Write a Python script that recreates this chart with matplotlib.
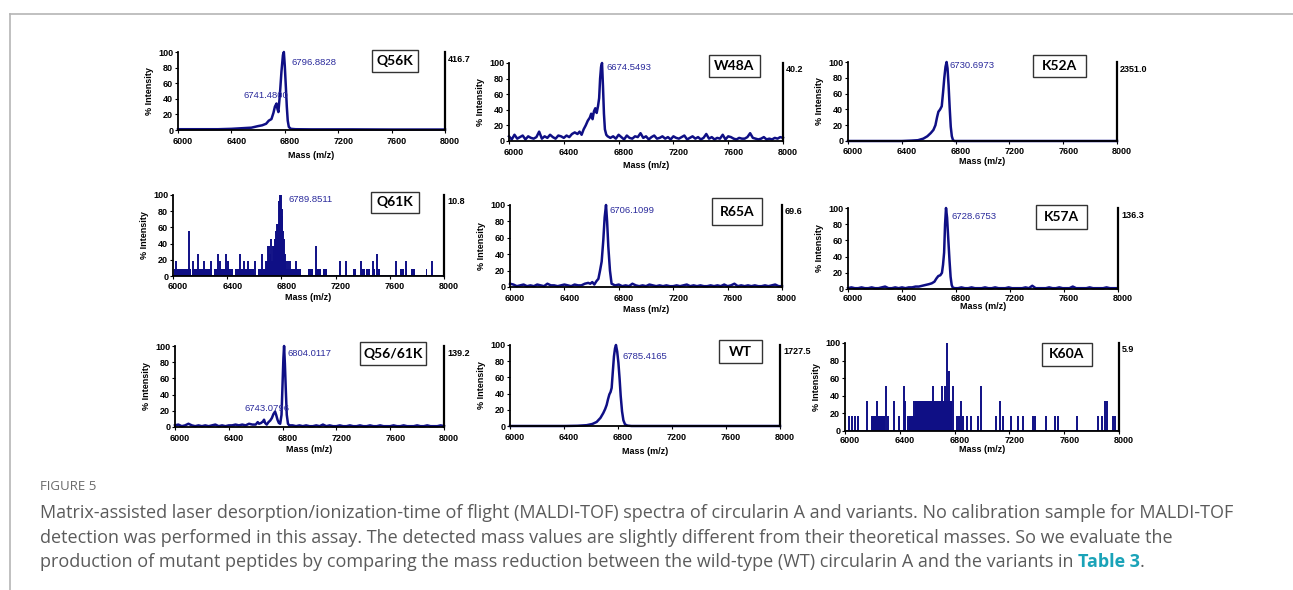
import numpy as np
import matplotlib
matplotlib.use('Agg')
import matplotlib.pyplot as plt
import matplotlib.transforms as mtransforms
from matplotlib.patches import Rectangle
from matplotlib.lines import Line2D

# %%
# Values (mass in m/z, intensity in % of max)
variants = ['Q56K', 'W48A', 'K52A', 'Q61K', 'R65A', 'K57A', 'Q56/61K', 'WT', 'K60A']
max_counts = ['416.7', '40.2', '2351.0', '10.8', '69.6', '136.3', '139.2', '1727.5', '5.9']
mass_ticks = [6000, 6400, 6800, 7200, 7600, 8000]
int_ticks = [0, 20, 40, 60, 80, 100]

peak_labels = {
    'Q56K': ['6796.8828', '6741.4800'],
    'W48A': ['6674.5493'],
    'K52A': ['6730.6973'],
    'Q61K': ['6789.8511'],
    'R65A': ['6706.1099'],
    'K57A': ['6728.6753'],
    'Q56/61K': ['6804.0117', '6743.0796'],
    'WT': ['6785.4165'],
    'K60A': [],
}

# Q56K
q56k_mass = [6000, 6100, 6200, 6300, 6400, 6450, 6500, 6550, 6600, 6630, 6660, 6680, 6700, 6715, 6726,
             6738, 6745, 6752, 6763, 6775, 6786, 6793, 6800, 6808, 6815, 6822, 6830, 6845, 6880, 7000,
             7300, 7600, 8000]
q56k_int = [1, 1, 1, 1, 1.5, 2, 2.5, 3, 5, 6, 8, 12, 14, 22, 30,
            34, 27, 23, 45, 75, 96, 100, 82, 55, 30, 12, 4, 1.5, 1, 0.8,
            0.8, 0.6, 0.6]

# W48A (noisy baseline every 20 m/z either side of the peak)
w48a_left = [6, 2, 8, 3, 5, 7, 2, 6, 4, 3, 5, 12, 3, 6, 4, 8, 5, 3, 7, 6, 4, 7, 5, 9, 11]
w48a_peak_mass = [6500, 6515, 6530, 6545, 6560, 6575, 6590, 6600, 6610, 6620, 6630, 6640, 6650, 6658,
                  6665, 6672, 6679, 6686, 6693, 6700, 6710, 6720]
w48a_peak = [9, 12, 8, 15, 20, 26, 30, 35, 28, 38, 42, 36, 45, 55,
             80, 95, 100, 70, 35, 15, 8, 6]
w48a_right = [4, 6, 3, 8, 5, 2, 7, 4, 3, 6, 5, 10, 4, 6, 2, 5, 7, 3, 4, 6,
              3, 5, 2, 6, 4, 3, 5, 7, 2, 4, 6, 3, 5, 2, 4, 9, 3, 5, 2, 4,
              3, 8, 2, 6, 5, 3, 2, 4, 3, 3, 5, 10, 4, 3, 2, 3, 5, 2, 3, 2,
              4, 3, 5, 4]

# K52A
k52a_mass = [6000, 6400, 6470, 6520, 6560, 6590, 6615, 6635, 6650, 6662, 6672, 6685, 6697, 6707, 6716,
             6725, 6733, 6740, 6748, 6756, 6764, 6772, 6780, 6790, 8000]
k52a_int = [0, 0, 0.5, 1, 3, 6, 10, 14, 20, 30, 37, 40, 44, 62, 80,
            94, 100, 92, 70, 42, 18, 6, 1.5, 0, 0]

# Q61K (single ion counts, 1 count = 1/10.8 of max)
q61k_bands = [(6010, 6130, 1), (6140, 6290, 1), (6300, 6445, 1), (6455, 6600, 1), (6625, 6945, 1),
              (6690, 6830, 2), (6996, 7033, 1), (7058, 7094, 1), (7107, 7136, 1), (7226, 7234, 1),
              (7275, 7283, 1), (7328, 7353, 1), (7362, 7368, 1), (7390, 7414, 1), (7427, 7451, 1),
              (7476, 7488, 1), (7508, 7525, 1), (7645, 7651, 1), (7673, 7705, 1), (7719, 7725, 1),
              (7759, 7783, 1), (7867, 7873, 1), (7904, 7910, 1), (7960, 7966, 1)]
q61k_spike_mass = [6020, 6118, 6148, 6185, 6229, 6283, 6332, 6349, 6389, 6406, 6492, 6521, 6553, 6603,
                   6659, 6684, 6700, 6708, 6716, 6726, 6735, 6743, 6750, 6758, 6766, 6775, 6782, 6787,
                   6792, 6797, 6802, 6807, 6812, 6816, 6824, 6831, 6848, 6866, 6910, 7058, 7230, 7279,
                   7390, 7476, 7508, 7648, 7722, 7914]
q61k_spike_counts = [2, 6, 2, 3, 2, 2, 3, 2, 3, 2, 3, 2, 2, 2,
                     3, 2, 4, 4, 3, 5, 4, 4, 5, 6, 7, 7, 10, 10.8,
                     10, 10.8, 9, 8, 6, 5, 3, 2, 2, 2, 2, 4, 2, 2,
                     2, 2, 3, 2, 2, 2]

# R65A
r65a_left = [4, 3, 1, 2, 3, 1, 2, 1, 3, 2, 1, 4, 2, 2, 1, 2, 3, 2, 1, 3, 2, 2, 4, 5]
r65a_peak_mass = [6590, 6605, 6620, 6635, 6650, 6662, 6674, 6686, 6696, 6706, 6714, 6723, 6735, 6747,
                  6760, 6770]
r65a_peak = [4, 6, 3, 7, 10, 20, 31, 57, 85, 100, 80, 49, 20, 4, 3, 2]
r65a_right = [2, 3, 1, 2, 1, 4, 2, 1, 2, 1, 3, 2, 1, 2, 1, 2, 1, 1, 2, 1,
              2, 3, 1, 2, 1, 2, 1, 1, 2, 1, 2, 1, 3, 1, 2, 4, 1, 2, 1, 2,
              1, 2, 1, 1, 2, 1, 2, 3, 1, 1]

# K57A
k57a_left = [1, 2, 1, 1, 2, 1, 1, 2, 1, 1, 2, 3, 1, 1, 2, 1, 2, 1, 2, 2, 3, 3, 4, 5]
k57a_peak_mass = [6600, 6620, 6640, 6655, 6669, 6684, 6696, 6704, 6712, 6719, 6726, 6734, 6743, 6752,
                  6760, 6768, 6775]
k57a_peak = [6, 7, 9, 13, 16, 17, 20, 30, 45, 80, 100, 88, 61, 35, 15, 5, 2]
k57a_right = [1, 1, 2, 1, 1, 2, 1, 1, 1, 2, 1, 1, 2, 1, 1, 1, 2, 1, 1, 1,
              1, 2, 1, 4, 1, 1, 1, 1, 2, 1, 1, 2, 1, 1, 1, 3, 1, 1, 1, 1,
              2, 1, 1, 1, 1, 2, 1, 1, 1]

# Q56/61K
q5661k_left = [2, 3, 1, 2, 4, 2, 1, 2, 1, 2, 1, 2, 3, 1, 2, 1, 2, 2, 3, 2, 3, 2, 4, 3]
q5661k_peak_mass = [6600, 6615, 6625, 6640, 6655, 6662, 6670, 6682, 6695, 6708, 6720, 6732, 6744, 6752,
                    6762, 6772, 6782, 6792, 6800, 6806, 6811, 6817, 6824, 6831, 6840, 6850]
q5661k_peak = [3, 6, 4, 5, 7, 9, 5, 3, 6, 8, 11, 16, 19, 15,
               9, 5, 4, 15, 55, 85, 100, 78, 45, 15, 4, 2]
q5661k_right = [2, 1, 2, 1, 2, 1, 1, 2, 1, 3, 1, 2, 1, 1, 2, 1, 1, 2, 1, 1,
                2, 1, 1, 2, 1, 1, 2, 1, 1, 1, 2, 1, 1, 2, 1, 1, 1, 2, 1, 1,
                2, 1, 1, 1, 2, 1]

# WT
wt_mass = [6000, 6400, 6500, 6568, 6610, 6642, 6670, 6691, 6705, 6716, 6726, 6736, 6745, 6753,
           6762, 6770, 6778, 6785, 6794, 6803, 6812, 6820, 6830, 6840, 6852, 6870, 6900, 8000]
wt_int = [0, 0, 0.3, 1, 2.5, 5, 10, 16, 21, 26, 33, 39, 42, 47,
          68, 86, 96, 100, 92, 78, 58, 37, 18, 7, 2, 0.5, 0, 0]

# K60A (single ion counts, 1 count = 1/5.9 of max)
k60a_bands = [(6190, 6290, 1), (6465, 6600, 1), (6510, 6780, 2)]
k60a_spike_mass = [6032, 6049, 6073, 6097, 6158, 6195, 6219, 6236, 6248, 6260, 6272, 6299, 6311, 6360,
                   6394, 6430, 6440, 6462, 6474, 6503, 6518, 6535, 6559, 6576, 6601, 6620, 6644, 6664,
                   6681, 6705, 6717, 6729, 6748, 6758, 6770, 6790, 6814, 6833, 6850, 6863, 6887, 6923,
                   6972, 6996, 7105, 7130, 7154, 7215, 7265, 7302, 7375, 7387, 7467, 7533, 7557, 7691,
                   7849, 7873, 7898, 7910, 7959, 7971]
k60a_spike_counts = [1, 1, 1, 1, 2, 1, 1, 2, 1, 1, 1, 3, 1, 2,
                     1, 3, 2, 1, 1, 2, 2, 2, 2, 2, 1, 2, 3, 2,
                     2, 3, 2, 3, 5.9, 4, 2, 3, 1, 1, 2, 1, 1, 1,
                     1, 3, 1, 2, 1, 1, 1, 1, 1, 1, 1, 1, 1, 1,
                     1, 1, 2, 2, 1, 1]


def grid(start, step, values):
    return start + step * np.arange(len(values))


lines = {
    'Q56K': (q56k_mass, q56k_int),
    'W48A': (np.concatenate([grid(6000, 20, w48a_left), w48a_peak_mass, grid(6740, 20, w48a_right)]),
             np.concatenate([w48a_left, w48a_peak, w48a_right])),
    'K52A': (k52a_mass, k52a_int),
    'R65A': (np.concatenate([grid(6000, 25, r65a_left), r65a_peak_mass, grid(6775, 25, r65a_right)]),
             np.concatenate([r65a_left, r65a_peak, r65a_right])),
    'K57A': (np.concatenate([grid(6000, 25, k57a_left), k57a_peak_mass, grid(6790, 25, k57a_right)]),
             np.concatenate([k57a_left, k57a_peak, k57a_right])),
    'Q56/61K': (np.concatenate([grid(6000, 25, q5661k_left), q5661k_peak_mass, grid(6875, 25, q5661k_right)]),
                np.concatenate([q5661k_left, q5661k_peak, q5661k_right])),
    'WT': (wt_mass, wt_int),
}
counts = {
    'Q61K': (q61k_bands, q61k_spike_mass, q61k_spike_counts, 10.8),
    'K60A': (k60a_bands, k60a_spike_mass, k60a_spike_counts, 5.9),
}

# %%
# Layout in pixels: axes (left, top, right, bottom), label box, gap to x label, peak label spots
W, H = 1293, 590
NAVY = '#0f0f85'
PEAK_BLUE = '#2b2b9c'
TICK_FONT = dict(family='Liberation Sans', size=6.5, weight='bold')

layout = [
    dict(rect=(178, 52, 445, 130), box=(372, 50, 418, 72), xgap=25, pad=3, spots=[(6850, 86), (6487, 44)]),
    dict(rect=(509, 63, 783, 141), box=(709, 55, 760, 77), xgap=24, pad=3, spots=[(6715, 94)]),
    dict(rect=(848, 62, 1117, 141), box=(1033, 55, 1086, 77), xgap=21, pad=2.5, spots=[(6751, 96)]),
    dict(rect=(173, 195, 444, 276), box=(371, 192, 419, 213), xgap=22, pad=2.5, spots=[(6849, 95)]),
    dict(rect=(510, 205, 782, 287), box=(712, 198, 762, 225), xgap=23, pad=3, spots=[(6728, 93)]),
    dict(rect=(848, 208, 1118, 289), box=(1036, 205, 1087, 229), xgap=18, pad=1.5, spots=[(6770, 89)]),
    dict(rect=(175, 346, 444, 427), box=(360, 342, 426, 365), xgap=23, pad=3, spots=[(6833, 91), (6520, 23)]),
    dict(rect=(510, 345, 780, 426), box=(719, 340, 762, 363), xgap=26, pad=3, spots=[(6830, 86)]),
    dict(rect=(845, 343, 1119, 431), box=(1042, 343, 1092, 366), xgap=18, pad=1.5, spots=[]),
]

fig = plt.figure(figsize=(W / 100, H / 100), dpi=100)
shift = mtransforms.ScaledTranslation(5 / 100, 0, fig.dpi_scale_trans)

for name, top_val, lay in zip(variants, max_counts, layout):
    l, t, r, b = lay['rect']
    ax = fig.add_axes([l / W, 1 - b / H, (r - l) / W, (b - t) / H])

    if name in lines:
        m, y = lines[name]
        ax.plot(m, y, color=NAVY, lw=1.8, clip_on=False)
    else:
        bands, sm, sc, top = counts[name]
        for a, e, lev in bands:
            ax.fill_between([a, e], 0, lev / top * 100, color=NAVY, lw=0)
        ax.vlines(sm, 0, np.array(sc) / top * 100, color=NAVY, lw=1.4)
        ax.plot([6000, 8000], [0, 0], color=NAVY, lw=1.2)

    for txt, (px, py) in zip(peak_labels[name], lay['spots']):
        ax.text(px, py, txt, color=PEAK_BLUE, fontsize=6.8, family='Liberation Sans',
                ha='left', va='center')

    ax.set_xlim(6000, 8000)
    ax.set_ylim(0, 100)
    ax.set_xticks(mass_ticks)
    ax.set_yticks(int_ticks)
    ax.tick_params(length=2, width=0.8, pad=1.5, colors='black')
    ax.tick_params(axis='x', pad=lay['pad'])
    for lab in ax.get_xticklabels() + ax.get_yticklabels():
        lab.set_fontproperties(TICK_FONT)
    for lab in ax.get_xticklabels():
        lab.set_transform(lab.get_transform() + shift)
    ax.spines['top'].set_visible(False)
    ax.spines['left'].set_linewidth(1.3)
    ax.spines['bottom'].set_linewidth(1.3)
    ax.spines['right'].set_linewidth(1.6)

    ax.set_ylabel('% Intensity', fontdict=TICK_FONT)
    ax.yaxis.set_label_coords(-24 / (r - l), 0.5)
    ax.set_xlabel('Mass (m/z)', fontdict=TICK_FONT)
    ax.xaxis.set_label_coords(0.5, -lay['xgap'] / (b - t))
    ax.xaxis.label.set_va('center')

    ax.annotate(top_val, xy=(1, 1), xycoords='axes fraction', xytext=(3, -7),
                textcoords='offset pixels', ha='left', va='center', fontproperties=TICK_FONT)

    x0, y0, x1, y1 = lay['box']
    fig.add_artist(Rectangle((x0 / W, 1 - y1 / H), (x1 - x0) / W, (y1 - y0) / H,
                             transform=fig.transFigure, facecolor='white', edgecolor='#333333', lw=1.0))
    fig.text((x0 + x1) / 2 / W, 1 - (y0 + y1) / 2 / H, name, ha='center', va='center',
             family='Lato', weight='bold', size=10, color='black')

# frame of the figure panel
fig.add_artist(Line2D([10 / W, 1], [1 - 14 / H, 1 - 14 / H], color='#b5b5b5', lw=1.2))
fig.add_artist(Line2D([10 / W, 10 / W], [0, 1 - 14 / H], color='#b5b5b5', lw=1.2))

# %%
# caption
CAP = '#5b5b5b'
CAP_SIZE = 13
fig.text(40 / W, 1 - 487 / H, 'FIGURE 5', color='#6a6a6a', fontsize=9.5, family='Open Sans', va='center')
caption = [
    'Matrix-assisted laser desorption/ionization-time of flight (MALDI-TOF) spectra of circularin A and variants. '
    'No calibration sample for MALDI-TOF',
    'detection was performed in this assay. The detected mass values are slightly different from their '
    'theoretical masses. So we evaluate the',
    'production of mutant peptides by comparing the mass reduction between the wild-type (WT) circularin A '
    'and the variants in',
]
cap_y = [513, 538, 562]
last = None
for txt, yy in zip(caption, cap_y):
    last = fig.text(40 / W, 1 - yy / H, txt, color=CAP, fontsize=CAP_SIZE, family='Open Sans', va='center')

fig.canvas.draw()
bb = last.get_window_extent()
tbl = fig.text((bb.x1 + 4) / W, 1 - cap_y[-1] / H, 'Table 3', color='#1aa3b8', fontsize=CAP_SIZE,
               family='Open Sans', weight='bold', va='center')
fig.canvas.draw()
bb2 = tbl.get_window_extent()
fig.text(bb2.x1 / W, 1 - cap_y[-1] / H, '.', color=CAP, fontsize=CAP_SIZE, family='Open Sans', va='center')

fig.savefig('out.png', dpi=100)
